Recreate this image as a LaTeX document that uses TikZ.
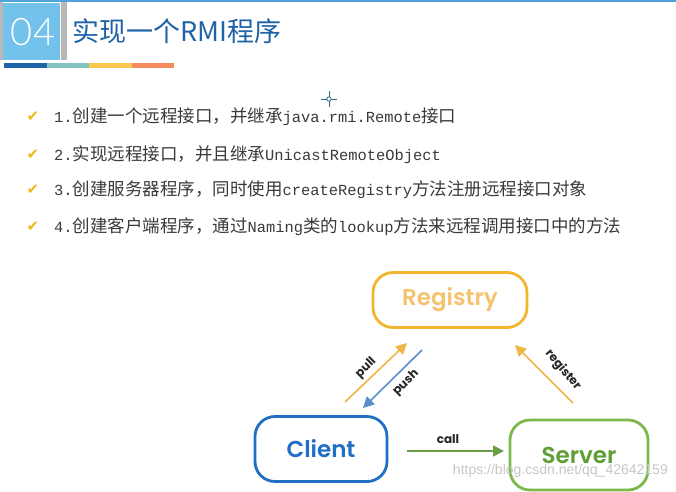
\documentclass[tikz,border=0pt]{standalone}
\usepackage{fontspec}
\usetikzlibrary{arrows.meta,calc}
\newfontfamily\cjk{Noto Sans CJK SC}
\newfontfamily\mono{Liberation Mono}
\newfontfamily\dejavu{DejaVu Sans}
\newfontfamily\hand{Poppins}
\newfontfamily\handmed{Poppins SemiBold}
\newfontfamily\numfont{Lato Light}
\newfontfamily\wmfont{Liberation Sans}
\definecolor{topline}{HTML}{4FA3DB}
\definecolor{greybar}{HTML}{B8B8B8}
\definecolor{sky}{HTML}{72C2EC}
\definecolor{titleblue}{HTML}{1F62A6}
\definecolor{barA}{HTML}{1F64A8}
\definecolor{barB}{HTML}{82C4BF}
\definecolor{barC}{HTML}{F9C850}
\definecolor{barD}{HTML}{F58A5C}
\definecolor{checkc}{HTML}{F2B81E}
\definecolor{textc}{HTML}{3A3A3A}
\definecolor{regc}{HTML}{F2B52E}
\definecolor{regtext}{HTML}{F6C26E}
\definecolor{clientc}{HTML}{1F6FC4}
\definecolor{serverc}{HTML}{7DB84A}
\definecolor{servertext}{HTML}{5E9E32}
\definecolor{pushc}{HTML}{5B8FCB}
\definecolor{pullc}{HTML}{EFB545}
\definecolor{callc}{HTML}{6A9E48}
\definecolor{cursorc}{HTML}{2E6F7F}
\newcommand{\zh}[1]{{\cjk\fontsize{17.5}{20}\selectfont #1}}
\newcommand{\en}[1]{{\mono\fontsize{15.4}{20}\selectfont #1}}
\tikzset{
  itemtext/.style={anchor=west, inner sep=0pt, text=textc},
  checkmark/.style={inner sep=0pt, text=checkc, font=\dejavu\fontsize{15}{15}\selectfont},
  boxnode/.style={draw, rounded corners=20pt, line width=2.8pt, inner sep=0pt},
  arr/.style={line width=1.6pt, -{Triangle[length=11pt,width=11pt]}},
  lbl/.style={inner sep=0pt, text=black!85, font=\hand\bfseries\fontsize{12}{13}\selectfont},
  diagtext/.style={font=\handmed\fontsize{23}{26}\selectfont}
}
\begin{document}
\begin{tikzpicture}[x=1pt,y=-1pt]
\useasboundingbox[fill=white] (0,0) rectangle (676,491);
% header
\fill[topline] (0,0) rectangle (676,1.5);
\fill[greybar] (0,2) rectangle (3,60);
\fill[sky] (3,3) rectangle (60,60);
\fill[greybar] (61,2) rectangle (67,60);
\node[text=white, inner sep=0pt, font=\numfont\fontsize{38}{40}\selectfont] (num) at (33,32) {04};
\node[anchor=west, inner sep=0pt, text=titleblue, font=\cjk\fontsize{27}{30}\selectfont] (title) at (72,31) {实现一个RMI程序};
\fill[barA] (4,63) rectangle (47,68);
\fill[barB] (47,63) rectangle (89,68);
\fill[barC] (89,63) rectangle (132,68);
\fill[barD] (132,63) rectangle (174,68);
% cursor
\draw[cursorc, line width=0.8pt] (329,91) -- (329,107) (321,99) -- (337,99);
\draw[cursorc, fill=white, line width=0.8pt] (329,99) circle (2.2);
% items
\node[checkmark] (c1) at (33,117) {✔};
\node[checkmark] (c2) at (33,155) {✔};
\node[checkmark] (c3) at (33,190) {✔};
\node[checkmark] (c4) at (33,227) {✔};
\node[itemtext] (l1) at (54,117) {\en{1.}\zh{创建一个远程接口，并继承}\en{java.rmi.Remote}\zh{接口}};
\node[itemtext] (l2) at (54,155) {\en{2.}\zh{实现远程接口，并且继承}\en{UnicastRemoteObject}};
\node[itemtext] (l3) at (54,190) {\en{3.}\zh{创建服务器程序，同时使用}\en{createRegistry}\zh{方法注册远程接口对象}};
\node[itemtext] (l4) at (54,227) {\en{4.}\zh{创建客户端程序，通过}\en{Naming}\zh{类的}\en{lookup}\zh{方法来远程调用接口中的方法}};
% diagram
\node[boxnode, draw=regc, text=regtext, minimum width=154pt, minimum height=55pt, diagtext] (registry) at (450,300) {Registry};
\node[boxnode, draw=clientc, text=clientc, minimum width=132pt, minimum height=65pt, diagtext] (client) at (321,449) {Client};
\node[boxnode, draw=serverc, text=servertext, minimum width=138pt, minimum height=70pt, diagtext] (server) at (579,455) {Server};
\coordinate (pullS) at (345,402);
\coordinate (pullE) at (407,343);
\coordinate (pushS) at (422,350);
\coordinate (pushE) at (363,408);
\coordinate (regS) at (573,403);
\coordinate (regE) at (515,345);
\coordinate (callS) at (407,451);
\coordinate (callE) at (504,451);
\draw[arr, pullc] (pullS) -- (pullE);
\draw[arr, pushc] (pushS) -- (pushE);
\draw[arr, pullc] (regS) -- (regE);
\draw[arr, callc] (callS) -- (callE);
\node[lbl, rotate=45] (pulllbl) at (366,368) {pull};
\node[lbl, rotate=45] (pushlbl) at (406,383) {push};
\node[lbl, rotate=-50] (reglbl) at (563,370) {register};
\node[lbl] (calllbl) at (448,439) {call};
% watermark
\node[anchor=east, inner sep=0pt, text=black!22, font=\wmfont\fontsize{14}{16}\selectfont] (wm) at (668,471) {https://blog.csdn.net/qq\_42642159};
\end{tikzpicture}
\end{document}
